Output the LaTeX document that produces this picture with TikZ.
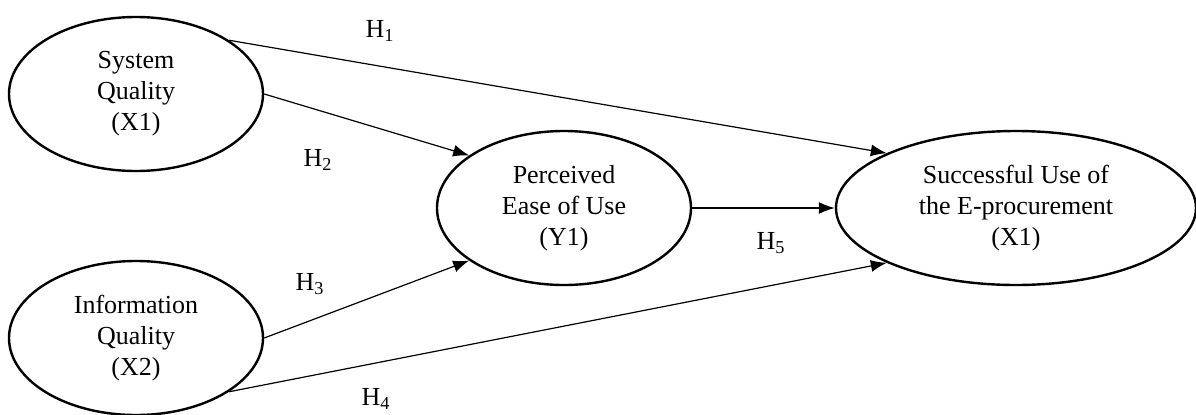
\documentclass[tikz,border=0pt]{standalone}
\usepackage{fontspec}
\setmainfont{Liberation Serif}
\usepackage{tikz}
\usetikzlibrary{shapes,arrows.meta}

\begin{document}
\begin{tikzpicture}[
            x=0.5pt, y=-0.5pt,
            >={Latex[length=8pt,width=6pt]},
            construct/.style={ellipse, draw, line width=1.2pt, minimum width=127pt, minimum height=77pt, inner sep=0pt, align=center, font=\fontsize{13}{15.5}\selectfont},
            hyp/.style={inner sep=0pt, font=\fontsize{13}{15.5}\selectfont},
            arrow/.style={->, line width=0.6pt}
        ]
            \clip (0,0) rectangle (1196,414);
            \node[construct] (sq) at (136,94) {System\\Quality\\(X1)};
            \node[construct] (iq) at (136,338) {Information\\Quality\\(X2)};
            \node[construct] (peou) at (564,208) {Perceived\\Ease of Use\\(Y1)};
            \node[construct, minimum width=180pt] (succ) at (1016,208) {Successful Use of\\the E-procurement\\(X1)};

            \node[hyp] (h1) at (380,31) {H\textsubscript{1}};
            \node[hyp] (h2) at (318,160) {H\textsubscript{2}};
            \node[hyp] (h3) at (310,284) {H\textsubscript{3}};
            \node[hyp] (h4) at (376,399) {H\textsubscript{4}};
            \node[hyp] (h5) at (771,243) {H\textsubscript{5}};

            \draw[arrow] (sq.30) -- (succ.157);
            \draw[arrow] (sq.east) -- (peou.151);
            \draw[arrow] (iq.east) -- (peou.209);
            \draw[arrow] (iq.-30) -- (succ.203);
            \draw[arrow] (peou.east) -- (succ.west);
        \end{tikzpicture}
\end{document}
